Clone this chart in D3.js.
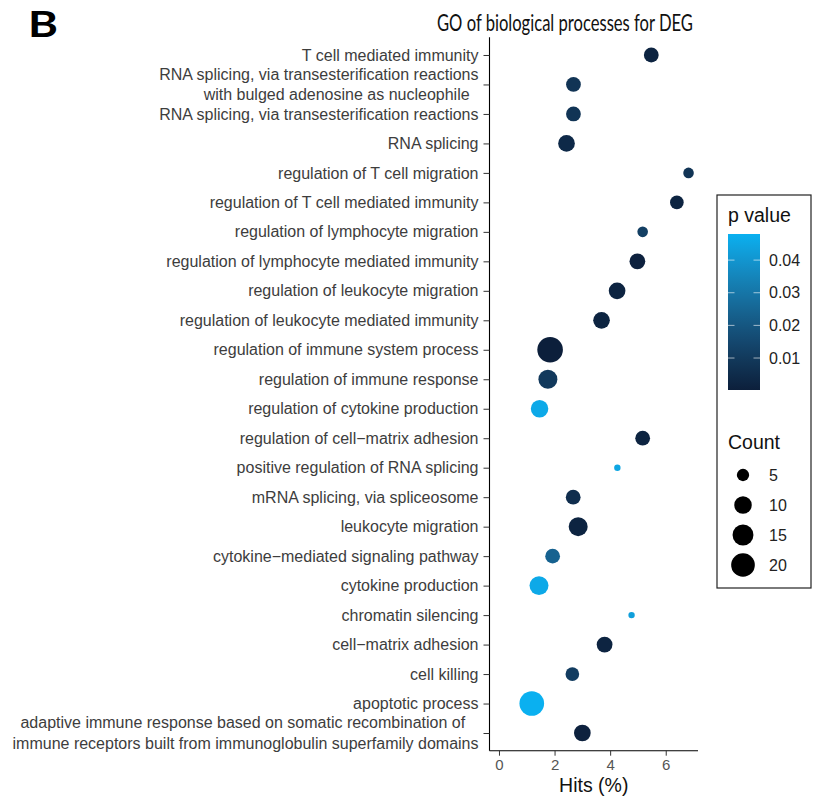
<!DOCTYPE html>
<html>
<head>
<meta charset="utf-8">
<script src="https://cdn.jsdelivr.net/npm/d3@7"></script>
<style>
  body { margin: 0; background: #fff; }
</style>
</head>
<body>
<div id="chart"></div>
<script>
// GO terms, top to bottom
const terms = [
  "T cell mediated immunity",
  "RNA splicing, via transesterification reactions\nwith bulged adenosine as nucleophile  ",
  "RNA splicing, via transesterification reactions",
  "RNA splicing",
  "regulation of T cell migration",
  "regulation of T cell mediated immunity",
  "regulation of lymphocyte migration",
  "regulation of lymphocyte mediated immunity",
  "regulation of leukocyte migration",
  "regulation of leukocyte mediated immunity",
  "regulation of immune system process",
  "regulation of immune response",
  "regulation of cytokine production",
  "regulation of cell\u2212matrix adhesion",
  "positive regulation of RNA splicing",
  "mRNA splicing, via spliceosome",
  "leukocyte migration",
  "cytokine\u2212mediated signaling pathway",
  "cytokine production",
  "chromatin silencing",
  "cell\u2212matrix adhesion",
  "cell killing",
  "apoptotic process",
  "adaptive immune response based on somatic recombination of   \nimmune receptors built from immunoglobulin superfamily domains"
];
const hits =    [5.48, 2.68, 2.68, 2.43, 6.82, 6.40, 5.17, 4.98, 4.25, 3.69, 1.84, 1.76,
                 1.46, 5.17, 4.26, 2.67, 2.85, 1.93, 1.44, 4.77, 3.80, 2.64, 1.18, 3.00];
const counts =  [7, 7, 7, 9, 4, 6, 4, 8, 9, 9, 24, 12,
                 10, 7, 3, 7, 12, 7, 12, 3, 8, 6, 22, 9];
const pvalues = [0.002, 0.008, 0.008, 0.004, 0.008, 0.002, 0.012, 0.001, 0.002, 0.002, 0.0002, 0.010,
                 0.046, 0.002, 0.045, 0.006, 0.002, 0.024, 0.046, 0.043, 0.002, 0.011, 0.048, 0.001];

const xTicks = [0, 2, 4, 6];
const pTicks = [0.01, 0.02, 0.03, 0.04];
const countBreaks = [5, 10, 15, 20];

const width = 814, height = 799;
const panel = { left: 489.5, right: 698, top: 37.3, bottom: 750.7 };
const sansFont = "'Liberation Sans', Arial, Helvetica, sans-serif";

const svg = d3.select("#chart").append("svg")
    .attr("width", width)
    .attr("height", height)
    .attr("font-family", sansFont);

// scales
const xMax = d3.max(hits);
const xPad = xMax * 0.05;
const x = d3.scaleLinear().domain([0 - xPad, xMax + xPad]).range([panel.left, panel.right]);
const y = d3.scalePoint().domain(terms).range([panel.top, panel.bottom]).padding(0.6);

const color = d3.scaleLinear()
    .domain([d3.min(pvalues), d3.max(pvalues)])
    .range(["#0c1f3b", "#0ab0f0"])
    .interpolate(d3.interpolateLab);

// ggplot-like area scale: radius linear in sqrt of rescaled count
const cMin = d3.min(counts), cMax = d3.max(counts);
const rLin = d3.scaleLinear().domain([0, 1]).range([3.2, 12.8]);
const radius = c => rLin(Math.sqrt((c - cMin) / (cMax - cMin)));

// panel label + title
svg.append("text")
    .attr("x", 28).attr("y", 37)
    .attr("font-family", "Lato, 'Open Sans', sans-serif")
    .attr("font-weight", "bold")
    .attr("font-size", 36)
    .attr("textLength", 30)
    .attr("lengthAdjust", "spacingAndGlyphs")
    .text("B");

svg.append("text")
    .attr("x", 437).attr("y", 31)
    .attr("font-family", "Lato, 'Open Sans', sans-serif")
    .attr("font-size", 24)
    .attr("fill", "#111")
    .attr("textLength", 256)
    .attr("lengthAdjust", "spacingAndGlyphs")
    .text("GO of biological processes for DEG");

// y axis
const yAxis = svg.append("g")
    .attr("transform", `translate(${panel.left},0)`)
    .call(d3.axisLeft(y).tickSize(6).tickPadding(4))
    .attr("font-family", sansFont);
yAxis.select(".domain").attr("stroke", "#000").attr("stroke-width", 1.1)
    .attr("d", `M0,${panel.top}V${panel.bottom}`);
yAxis.selectAll(".tick line").attr("stroke", "#333");
yAxis.selectAll(".tick text")
    .attr("font-size", 16)
    .attr("fill", "#3d3d3d")
    .style("white-space", "pre")
    .each(function (d) {
        const lines = d.split("\n");
        const t = d3.select(this).text(null);
        const lh = 20.5;
        lines.forEach((ln, i) => {
            t.append("tspan")
                .attr("x", -11)
                .attr("y", (i - (lines.length - 1) / 2) * lh)
                .attr("dy", "0.32em")
                .text(ln);
        });
    });

// x axis
const xAxis = svg.append("g")
    .attr("transform", `translate(0,${panel.bottom})`)
    .call(d3.axisBottom(x).tickValues(xTicks).tickSize(5).tickPadding(4))
    .attr("font-family", sansFont);
xAxis.select(".domain").attr("stroke", "#000").attr("stroke-width", 1.1)
    .attr("d", `M${panel.left},0H${panel.right}`);
xAxis.selectAll(".tick line").attr("stroke", "#333");
xAxis.selectAll(".tick text").attr("font-size", 15).attr("fill", "#555");

svg.append("text")
    .attr("x", (panel.left + panel.right) / 2)
    .attr("y", 792)
    .attr("text-anchor", "middle")
    .attr("font-size", 19.5)
    .attr("fill", "#111")
    .text("Hits (%)");

// points
svg.append("g").selectAll("circle")
    .data(terms.map((t, i) => ({ term: t, hit: hits[i], count: counts[i], p: pvalues[i] })))
    .join("circle")
    .attr("cx", d => x(d.hit))
    .attr("cy", d => y(d.term))
    .attr("r", d => radius(d.count))
    .attr("fill", d => color(d.p));

// legend box
const lg = svg.append("g");
lg.append("rect")
    .attr("x", 717).attr("y", 195)
    .attr("width", 94).attr("height", 393)
    .attr("fill", "#fff").attr("stroke", "#222").attr("stroke-width", 1.2);

lg.append("text")
    .attr("x", 728).attr("y", 222)
    .attr("font-size", 19.5).attr("fill", "#111")
    .text("p value");

const barTop = 234, barBottom = 390, barX = 728, barW = 32;
const pScale = d3.scaleLinear().domain(color.domain()).range([barBottom, barTop]);

const defs = svg.append("defs");
const grad = defs.append("linearGradient")
    .attr("id", "pgrad")
    .attr("x1", 0).attr("y1", 1).attr("x2", 0).attr("y2", 0);
d3.range(0, 1.0001, 0.1).forEach(t => {
    const v = color.domain()[0] + t * (color.domain()[1] - color.domain()[0]);
    grad.append("stop").attr("offset", t).attr("stop-color", color(v));
});
lg.append("rect")
    .attr("x", barX).attr("y", barTop)
    .attr("width", barW).attr("height", barBottom - barTop)
    .attr("fill", "url(#pgrad)");

pTicks.forEach(v => {
    const yy = pScale(v);
    lg.append("line").attr("x1", barX).attr("x2", barX + 6.5).attr("y1", yy).attr("y2", yy)
        .attr("stroke", "#fff").attr("stroke-opacity", 0.6);
    lg.append("line").attr("x1", barX + barW - 6.5).attr("x2", barX + barW).attr("y1", yy).attr("y2", yy)
        .attr("stroke", "#fff").attr("stroke-opacity", 0.6);
    lg.append("text")
        .attr("x", 769).attr("y", yy).attr("dy", "0.35em")
        .attr("font-size", 16).attr("fill", "#222")
        .text(d3.format(".2f")(v));
});

lg.append("text")
    .attr("x", 728).attr("y", 449)
    .attr("font-size", 19.5).attr("fill", "#111")
    .text("Count");

countBreaks.forEach((c, i) => {
    const yy = 475 + i * 30;
    lg.append("circle").attr("cx", 743).attr("cy", yy).attr("r", radius(c)).attr("fill", "#000");
    lg.append("text")
        .attr("x", 769).attr("y", yy).attr("dy", "0.35em")
        .attr("font-size", 16).attr("fill", "#222")
        .text(c);
});
</script>
</body>
</html>
